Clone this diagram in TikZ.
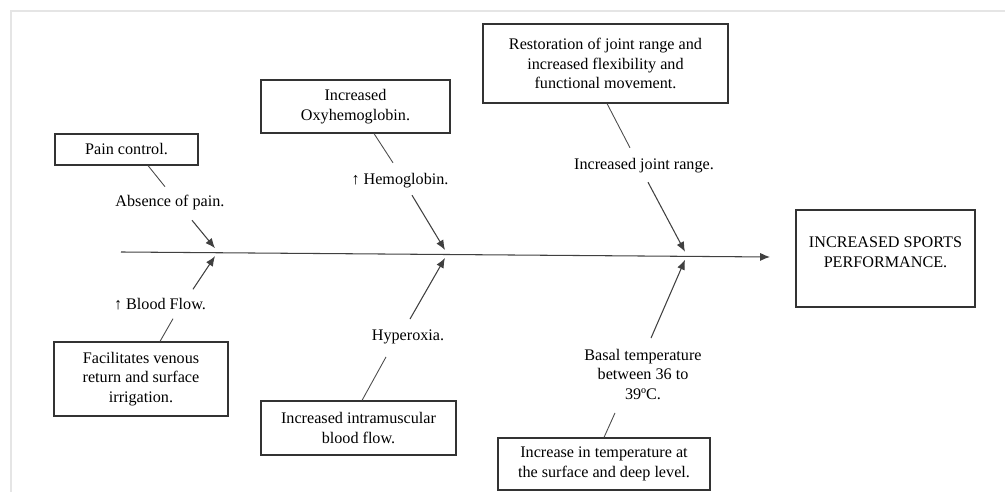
\documentclass[tikz,border=0pt]{standalone}
\usepackage{fontspec}
\setmainfont{Liberation Serif}
\usetikzlibrary{arrows.meta}

\begin{document}
\begin{tikzpicture}[x=0.02cm,y=-0.02cm,
  font=\fontsize{9.2}{11.3}\selectfont,
  box/.style={draw=black!80,line width=0.65pt,align=center,inner sep=0pt,text=black},
  cause/.style={align=center,inner sep=2pt,text=black},
  tie/.style={draw=black!70,line width=0.5pt},
  push/.style={draw=black!75,line width=0.6pt,-{Latex[length=5.6pt,width=4.6pt]}}]

% page size and the light frame
\useasboundingbox (0,0) rectangle (1005,492);
\draw[black!10,line width=1pt] (11,492) -- (11,11) -- (1005,11);

% spine of the diagram
\coordinate (tail) at (121,252);
\coordinate (head) at (770,257);
\coordinate (j1) at (215,252.7);
\coordinate (j2) at (445,254.5);
\coordinate (j3) at (685,256.3);
\draw[push] (tail) -- (head);

% effect
\node[box,minimum width=3.58cm,minimum height=1.94cm] (sports) at (885.5,258.5)
  {INCREASED SPORTS\\PERFORMANCE.\\[-4pt]\mbox{}};

% boxes above the spine
\node[box,minimum width=2.86cm,minimum height=0.62cm] (pain) at (126.5,149.5) {Pain control.};
\node[box,minimum width=3.78cm,minimum height=1.06cm] (oxy) at (355.5,106.5) {Increased\\Oxyhemoglobin.};
\node[box,minimum width=4.9cm,minimum height=1.58cm] (resto) at (605.5,63.5)
  {Restoration of joint range and\\increased flexibility and\\functional movement.};

% boxes below the spine
\node[box,minimum width=3.48cm,minimum height=1.48cm] (venous) at (141,379)
  {Facilitates venous\\return and surface\\irrigation.};
\node[box,minimum width=3.9cm,minimum height=1.08cm] (intra) at (358.5,428)
  {Increased intramuscular\\blood flow.};
\node[box,minimum width=4.24cm,minimum height=1.04cm] (temp) at (604,464)
  {Increase in temperature at\\the surface and deep level.};

% causes on the branches
\node[cause] (absence) at (170,203) {Absence of pain.};
\node[cause] (hemo) at (400,181) {↑ Hemoglobin.};
\node[cause] (joint) at (644,166) {Increased joint range.};
\node[cause] (blood) at (160,304) {↑ Blood Flow.};
\node[cause] (hyper) at (408,337) {Hyperoxia.};
\node[cause] (basal) at (643,374.5) {Basal temperature\\between 36 to\\39ºC.};

% upper branches
\draw[tie] ([xshift=0.43cm]pain.south) -- ([xshift=-0.1cm,yshift=0.1cm]absence.north);
\draw[push] ([xshift=0.44cm,yshift=-0.12cm]absence.south) -- ([yshift=0.09cm]j1);
\draw[tie] ([xshift=0.37cm]oxy.south) -- ([xshift=-0.14cm,yshift=0.14cm]hemo.north);
\draw[push] ([xshift=0.24cm,yshift=-0.06cm]hemo.south) -- ([yshift=0.09cm]j2);
\draw[tie] ([xshift=0.03cm]resto.south) -- ([xshift=-0.28cm,yshift=0.14cm]joint.north);
\draw[push] ([xshift=0.08cm,yshift=-0.1cm]joint.south) -- ([yshift=0.09cm]j3);

% lower branches
\draw[tie] ([xshift=0.38cm]venous.north) -- ([xshift=0.26cm,yshift=-0.1cm]blood.south);
\draw[push] ([xshift=0.66cm,yshift=0.1cm]blood.north) -- ([yshift=-0.07cm]j1);
\draw[tie] ([xshift=0.07cm]intra.north) -- ([xshift=-0.44cm,yshift=-0.18cm]hyper.south);
\draw[push] ([xshift=0.04cm,yshift=0.14cm]hyper.north) -- ([yshift=-0.07cm]j2);
\draw[tie] (temp.north) -- ([xshift=-0.56cm,yshift=-0.18cm]basal.south);
\draw[push] ([xshift=0.16cm,yshift=0.14cm]basal.north) -- ([yshift=-0.07cm]j3);

\end{tikzpicture}
\end{document}
